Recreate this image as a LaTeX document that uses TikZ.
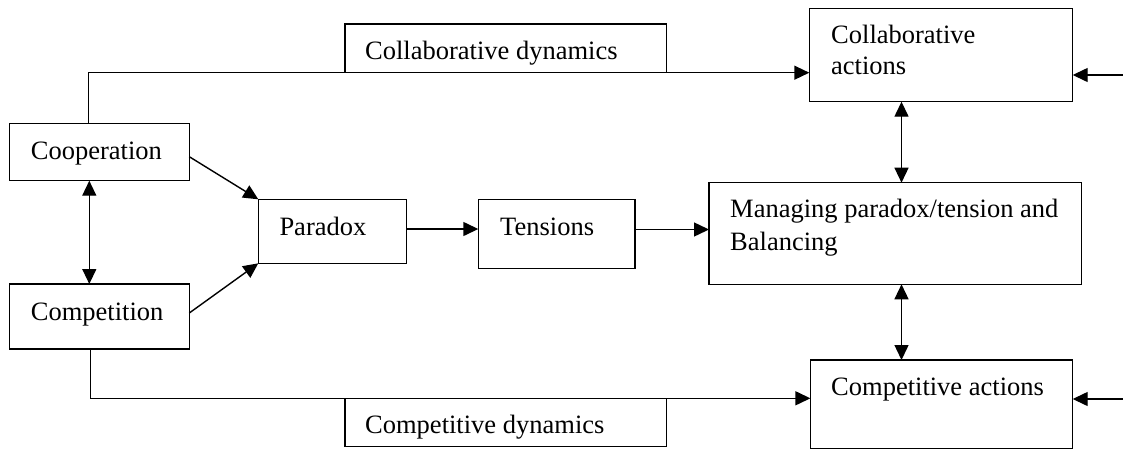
\documentclass[tikz,border=0pt]{standalone}
\usepackage{fontspec}
\setmainfont{Liberation Serif}
\usetikzlibrary{arrows.meta,calc}
\newcommand\dgfont{\fontsize{26.5pt}{32pt}\selectfont}
\tikzset{
  boxed/.style={draw, line width=1.5pt, inner sep=0pt, outer sep=0pt},
  lbl/.style={anchor=base west, inner sep=0pt, font=\dgfont},
  conn/.style={line width=1.4pt},
  arr/.style={conn, -{Triangle[length=15pt,width=14pt]}},
  darr/.style={conn, {Triangle[length=15pt,width=14pt]}-{Triangle[length=15pt,width=14pt]}}
}
% \mkbox{name}{x1}{y1}{x2}{y2}
\newcommand\mkbox[5]{%
  \pgfmathsetmacro\bw{#4-#2}\pgfmathsetmacro\bh{#5-#3}%
  \node[boxed, minimum width=\bw pt, minimum height=\bh pt] (#1) at ({(#2+#4)/2},{(#3+#5)/2}) {};}
\begin{document}
\begin{tikzpicture}[x=1pt,y=-1pt]
\useasboundingbox (0,0) rectangle (1123,450);
% boxes
\mkbox{coop}{9.3}{123.3}{189.3}{180.7}
\mkbox{comp}{9.3}{284}{189.3}{349}
\mkbox{paradox}{258.3}{199.3}{406.7}{263.3}
\mkbox{tensions}{478.3}{199.3}{635}{268.3}
\mkbox{manage}{709}{182.7}{1081.7}{284.3}
\mkbox{cdyn}{345}{24}{666.7}{72.7}
\mkbox{cact}{809.3}{8.3}{1072.7}{101.7}
\mkbox{kdyn}{345}{398.3}{666.7}{446.7}
\mkbox{kact}{810.4}{360}{1072.7}{448.3}
% texts
\node[lbl] (tcoop) at (30.7,159.3) {Cooperation};
\node[lbl] (tcomp) at (30.7,320) {Competition};
\node[lbl] (tpar) at (279.3,235) {Paradox};
\node[lbl] (tten) at (500,235) {Tensions};
\node[lbl] (tman1) at (730,217.5) {Managing paradox/tension and};
\node[lbl] (tman2) at (730,250) {Balancing};
\node[lbl] (tcdyn) at (365,59.3) {Collaborative dynamics};
\node[lbl] (tcact1) at (831,43.3) {Collaborative};
\node[lbl] (tcact2) at (831,74) {actions};
\node[lbl] (tkdyn) at (365,433.8) {Competitive dynamics};
\node[lbl] (tkact) at (831,395.5) {Competitive actions};
% helper coordinates
\coordinate (vx) at (901.5,0);
\coordinate (r1) at (1123,75);
\coordinate (r2) at (1123,399);
% connectors
\draw[arr] ([xshift=-10.6pt]coop.north) |- (cdyn.south -| cact.west);
\draw[arr] ([xshift=-8.9pt]comp.south) |- (kdyn.north -| kact.west);
\draw[darr] ([xshift=-10pt]coop.south) -- ([xshift=-10pt]comp.north);
\draw[arr] ([yshift=-4.7pt]coop.east) -- (paradox.north west);
\draw[arr] ([yshift=3.5pt]comp.east) -- (paradox.south west);
\draw[arr] ([yshift=2.3pt]paradox.east) -- ([yshift=2.3pt]paradox.east -| tensions.west);
\draw[arr] ([yshift=4.3pt]tensions.east) -- ([yshift=4.3pt]tensions.east -| manage.west);
\draw[darr] (cact.south -| vx) -- (manage.north -| vx);
\draw[darr] (manage.south -| vx) -- (kact.north -| vx);
\draw[arr] (r1) -- (r1 -| cact.east);
\draw[arr] (r2) -- (r2 -| kact.east);
\end{tikzpicture}
\end{document}
